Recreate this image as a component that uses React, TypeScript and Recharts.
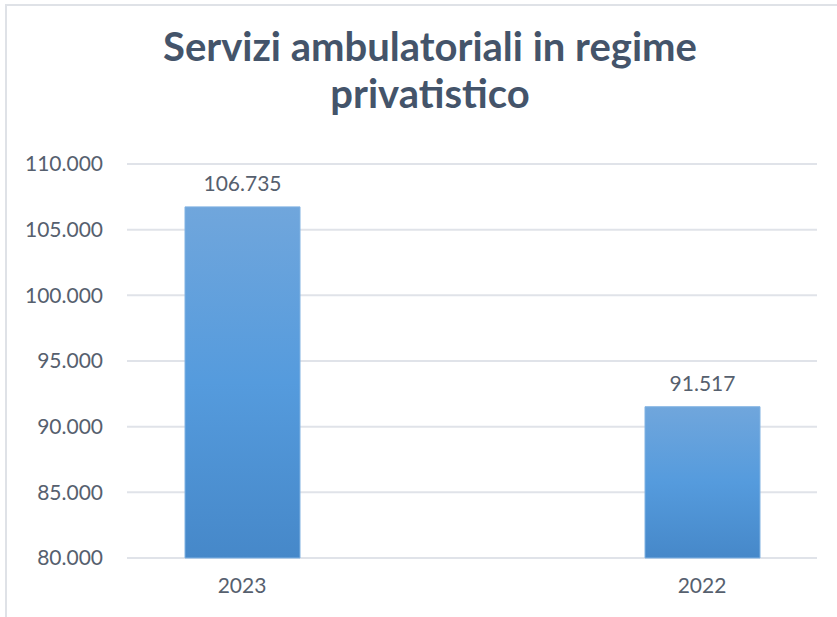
import { Bar, BarChart, CartesianGrid, LabelList, XAxis, YAxis } from 'recharts';

const categories = ['2023', '', '2022'];
const values = [106735, null, 91517];
const yTicks = [80000, 85000, 90000, 95000, 100000, 105000, 110000];

const data = categories.map((year, i) => ({ year, value: values[i] }));

const font = 'Lato, "Noto Sans", sans-serif';
const textColor = '#56606e';

const formatIt = (v: number) => String(v).replace(/\B(?=(\d{3})+(?!\d))/g, '.');

export default function App() {
  return (
    <div style={{ position: 'absolute', left: 0, top: 0, width: 837, height: 617, overflow: 'hidden', background: '#fff' }}>
      <div
        style={{
          position: 'absolute',
          left: 5,
          top: 4,
          width: 900,
          height: 700,
          border: '2px solid #dfe2e7',
        }}
      />
      <div
        style={{
          position: 'absolute',
          left: 0,
          top: 23,
          width: 860,
          textAlign: 'center',
          fontFamily: font,
          fontWeight: 700,
          fontSize: 40,
          lineHeight: '47px',
          color: '#44546a',
        }}
      >
        Servizi ambulatoriali in regime
        <br />
        privatistico
      </div>
      <BarChart
        width={837}
        height={617}
        data={data}
        margin={{ top: 164, right: 20, bottom: 0, left: 0 }}
        style={{ position: 'absolute', left: 0, top: 0 }}
      >
        <defs>
          <linearGradient id="barFill" x1="0" y1="0" x2="0" y2="1">
            <stop offset="0%" stopColor="#70a6dc" />
            <stop offset="50%" stopColor="#559bdd" />
            <stop offset="100%" stopColor="#4688c9" />
          </linearGradient>
        </defs>
        <CartesianGrid stroke="#e0e3e9" strokeWidth={2} vertical={false} />
        <XAxis
          axisLine={false}
          dataKey="year"
          height={59}
          interval={0}
          tick={{ fill: textColor, fontSize: 21, fontFamily: font }}
          tickLine={false}
          tickMargin={20}
          tickSize={0}
        />
        <YAxis
          axisLine={false}
          domain={[80000, 110000]}
          tick={{ fill: textColor, fontSize: 21, fontFamily: font }}
          tickFormatter={formatIt}
          tickLine={false}
          tickMargin={24}
          tickSize={0}
          ticks={yTicks}
          width={127}
        />
        <Bar
          barSize={115}
          dataKey="value"
          fill="url(#barFill)"
          isAnimationActive={false}
          stroke="#80b2e2"
          strokeWidth={1}
        >
          <LabelList
            dataKey="value"
            fill={textColor}
            fontFamily={font}
            fontSize={21}
            formatter={(v: any) => (v == null ? '' : formatIt(v))}
            offset={16}
            position="top"
          />
        </Bar>
      </BarChart>
    </div>
  );
}
